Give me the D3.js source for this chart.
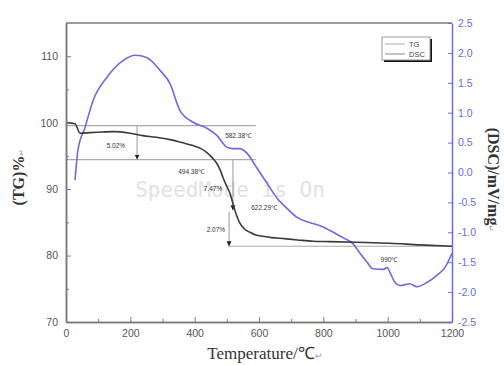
<!DOCTYPE html>
<html><head><meta charset="utf-8">
<script src="https://cdn.jsdelivr.net/npm/d3@7"></script>
<style>body{margin:0;background:#fff}svg{display:block}</style>
</head><body>
<svg id="c" width="504" height="365"></svg>
<script>
// ---- data ----
const tgTemp = [0,28,44,75,115,152,200,239,280,323,360,395,420,438,455,469,480,488,500,510,518,525,533,541,555,572,590,612,640,665,720,768,821,900,1007,1100,1200];
const tgVal  = [100.0,99.85,98.4,98.5,98.6,98.65,98.4,98.05,97.8,97.45,97.0,96.55,96.1,95.5,94.7,93.85,92.8,91.75,90.4,89.35,88.0,86.8,85.7,84.85,84.0,83.5,83.1,82.9,82.7,82.6,82.35,82.15,82.1,82.0,81.85,81.6,81.4];
const dscTemp = [28,37,59,84,127,177,215,252,292,323,354,395,438,469,501,519,541,563,594,625,656,687,718,759,790,821,861,892,914,936,954,986,998,1007,1023,1038,1069,1091,1122,1153,1178,1200];
const dscVal  = [-0.13,0.37,0.75,1.20,1.59,1.87,1.96,1.92,1.71,1.49,1.04,0.84,0.74,0.62,0.42,0.40,0.40,0.32,0.07,-0.18,-0.43,-0.60,-0.75,-0.84,-0.89,-0.97,-1.09,-1.19,-1.35,-1.50,-1.61,-1.62,-1.59,-1.67,-1.84,-1.89,-1.86,-1.91,-1.84,-1.72,-1.59,-1.35];
const xTicks = [0,200,400,600,800,1000,1200];
const tgTicks = [70,80,90,100,110];
const dscTicks = [-2.5,-2.0,-1.5,-1.0,-0.5,0.0,0.5,1.0,1.5,2.0,2.5];
const seriesNames = ["TG","DSC"];
// reference lines (TG levels) and annotations
const refLines = [{y:99.55,t0:0,t1:590},{y:94.45,t0:0,t1:590},{y:81.4,t0:504,t1:1200}];
const arrows = [{t:221,from:99.55,to:94.45},{t:519,from:94.45,to:86.8},{t:507,from:86.6,to:81.4}];
const notes = [
  {text:"5.02%",t:155,v:96.25},
  {text:"582.38℃",t:535,v:97.75},
  {text:"494.38℃",t:389,v:92.2},
  {text:"7.47%",t:457,v:89.65},
  {text:"622.29℃",t:616,v:86.8},
  {text:"2.07%",t:466,v:83.5},
  {text:"990℃",t:1004,v:79.0}
];

// ---- layout ----
const svg = d3.select("#c");
const L=66, R=452, T=23, B=322;
const x = d3.scaleLinear().domain([0,1200]).range([L,R]);
const yL = d3.scaleLinear().domain([70,115]).range([B,T]);
const yR = d3.scaleLinear().domain([-2.5,2.5]).range([B,T]);
const gray="#7a7a7a", blue="#6b6be0";

// watermark
svg.append("text").attr("x",230).attr("y",197).attr("text-anchor","middle")
  .attr("font-family","DejaVu Sans Mono, monospace").attr("font-size",21)
  .attr("fill","#e2e2e2").text("SpeedMode is On");

// frame top line
svg.append("line").attr("x1",L).attr("x2",R).attr("y1",T).attr("y2",T).attr("stroke",gray).attr("stroke-width",1.5);

// reference lines
svg.selectAll(".ref").data(refLines).join("line")
  .attr("x1",d=>x(d.t0)).attr("x2",d=>x(d.t1)).attr("y1",d=>yL(d.y)).attr("y2",d=>yL(d.y))
  .attr("stroke","#aaaaaa").attr("stroke-width",1.2);

// arrows
svg.append("defs").append("marker").attr("id","ah").attr("viewBox","0 0 10 10").attr("refX",10).attr("refY",5)
  .attr("markerWidth",5).attr("markerHeight",6).attr("orient","auto")
  .append("path").attr("d","M0,0L10,5L0,10z").attr("fill","#222");
svg.selectAll(".arr").data(arrows).join("line")
  .attr("x1",d=>x(d.t)).attr("x2",d=>x(d.t)).attr("y1",d=>yL(d.from)).attr("y2",d=>yL(d.to))
  .attr("stroke","#999").attr("stroke-width",1).attr("marker-end","url(#ah)");

// lines
const tgData = tgTemp.map((t,i)=>[t,tgVal[i]]);
const dscData = dscTemp.map((t,i)=>[t,dscVal[i]]);
svg.append("path").datum(dscData).attr("fill","none").attr("stroke",blue).attr("stroke-width",1.6)
  .attr("d",d3.line().x(d=>x(d[0])).y(d=>yR(d[1])).curve(d3.curveMonotoneX));
svg.append("path").datum(tgData).attr("fill","none").attr("stroke","#3a3a3a").attr("stroke-width",1.6)
  .attr("d",d3.line().x(d=>x(d[0])).y(d=>yL(d[1])).curve(d3.curveMonotoneX));

// notes
svg.selectAll(".note").data(notes).join("text")
  .attr("x",d=>x(d.t)).attr("y",d=>yL(d.v)).attr("text-anchor","middle")
  .attr("font-family","Liberation Sans, Arial, sans-serif").attr("font-size",6.5).attr("fill","#333")
  .text(d=>d.text);

// axes
const fontAx = "Liberation Sans, Arial, sans-serif";
const gx = svg.append("g").attr("transform",`translate(0,${B})`)
  .call(d3.axisBottom(x).tickValues(xTicks).tickSizeInner(-5).tickSizeOuter(0).tickPadding(8).tickFormat(d3.format("d")));
svg.append("g").attr("transform",`translate(0,${B})`)
  .call(d3.axisBottom(x).tickValues(d3.range(100,1200,200)).tickSizeInner(-3).tickSizeOuter(0).tickFormat(""));
const gy = svg.append("g").attr("transform",`translate(${L},0)`)
  .call(d3.axisLeft(yL).tickValues(tgTicks).tickSizeInner(-5).tickSizeOuter(0).tickPadding(8));
svg.append("g").attr("transform",`translate(${L},0)`)
  .call(d3.axisLeft(yL).tickValues([75,85,95,105]).tickSizeInner(-3).tickSizeOuter(0).tickFormat(""));
const gr = svg.append("g").attr("transform",`translate(${R},0)`)
  .call(d3.axisRight(yR).tickValues(dscTicks).tickSizeInner(-4).tickSizeOuter(0).tickPadding(6).tickFormat(d3.format(".1f")));
svg.selectAll("g .domain").attr("stroke",gray).attr("stroke-width",1.5);
svg.selectAll("g .tick line").attr("stroke",gray);
[gx,gy].forEach(g=>g.selectAll("text").attr("fill","#555").attr("font-size",10.5).attr("font-family",fontAx));
gr.select(".domain").attr("stroke",blue);
gr.selectAll(".tick line").attr("stroke",blue);
gr.selectAll("text").attr("fill",blue).attr("font-size",10.5).attr("font-family",fontAx)
  .text(d=>d3.format(".1f")(d).replace("−","-"));

// axis titles
const serif="Liberation Serif, Times New Roman, serif";
const xt = svg.append("text").attr("x",265).attr("y",359).attr("text-anchor","middle")
  .attr("font-family",serif).attr("font-size",17).attr("fill","#333");
xt.append("tspan").text("Temperature/℃");
xt.append("tspan").attr("font-size",9).attr("fill","#999").text("↵");
const yt = svg.append("text").attr("transform","translate(24,177) rotate(-90)").attr("text-anchor","middle")
  .attr("font-family",serif).attr("font-size",16).attr("font-weight","bold").attr("fill","#333");
yt.append("tspan").text("(TG)%");
yt.append("tspan").attr("font-size",8).attr("font-weight","normal").attr("fill","#999").text("↵");
const rt = svg.append("text").attr("transform","translate(488,180) rotate(90)").attr("text-anchor","middle")
  .attr("font-family",serif).attr("font-size",16).attr("font-weight","bold").attr("fill","#333");
rt.append("tspan").text("(DSC)/mV/mg");
rt.append("tspan").attr("font-size",8).attr("font-weight","normal").attr("fill","#999").text("↵");

// legend
const lg = svg.append("g").attr("transform","translate(382,37)");
lg.append("rect").attr("x",2).attr("y",2).attr("width",48).attr("height",23).attr("fill","#111");
lg.append("rect").attr("width",48).attr("height",23).attr("fill","#fff").attr("stroke","#999");
const items = lg.selectAll(".it").data(seriesNames).join("g").attr("transform",(d,i)=>`translate(0,${7+i*10})`);
items.append("line").attr("x1",3).attr("x2",23).attr("stroke",(d,i)=>i?"#8a8a8a":"#aaa").attr("stroke-width",1);
items.append("text").attr("x",27).attr("y",3).attr("font-family",fontAx).attr("font-size",7.5).attr("fill","#444").text(d=>d);
</script>
</body></html>
